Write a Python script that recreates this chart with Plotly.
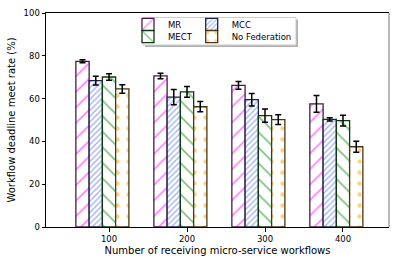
import plotly.graph_objects as go

categories = ["100", "200", "300", "400"]
series_names = ["MR", "MCC", "MECT", "No Federation"]
mr = [77.4, 70.6, 66.2, 57.5]
mr_err = [0.7, 1.3, 1.8, 3.9]
mcc = [68.4, 60.7, 59.5, 50.3]
mcc_err = [2.0, 3.6, 2.9, 0.8]
mect = [70.1, 63.1, 52.0, 49.7]
mect_err = [1.5, 2.5, 3.1, 2.5]
nofed = [64.5, 56.2, 50.2, 37.5]
nofed_err = [2.0, 2.4, 2.3, 2.6]
y_ticks = [0, 20, 40, 60, 80, 100]

values = [mr, mcc, mect, nofed]
errors = [mr_err, mcc_err, mect_err, nofed_err]
fg = ["#ff00ff", "#4169e1", "#008000", "#ffa500"]
outline = ["#4a1a4a", "#1c2444", "#103810", "#4a3610"]
shapes_p = ["/", "/", "\\", "."]
sizes = [11, 4, 11, 11]
solid = [0.15, 0.35, 0.15, 0.13]
w = 0.17
offsets = [-2.5 * w, -1.5 * w, -0.5 * w, 0.5 * w]
legend_ids = ["legend", "legend2", "legend3", "legend4"]
# legend text anchor (px): MR, MCC, MECT, No Federation
leg_text_x = [168, 231.7, 168, 231.7]
leg_text_y = [24.3, 24.3, 36.7, 36.7]

xpos = list(range(len(categories)))
FONT = "DejaVu Sans"

fig = go.Figure()
for i, name in enumerate(series_names):
    fig.add_trace(go.Bar(
        x=xpos, y=values[i], name=name, width=w, offset=offsets[i],
        marker=dict(color="white", line=dict(color=outline[i], width=1.3),
                    pattern=dict(shape=shapes_p[i], fgcolor=fg[i], bgcolor="white",
                                 size=sizes[i], solidity=solid[i], fillmode="overlay")),
        error_y=dict(type="data", array=errors[i], color="black", thickness=1.5, width=3),
        legend=legend_ids[i],
    ))

PL, PR, PT, PB = 46, 10, 13, 39
pw, ph = 399 - PL - PR, 266 - PT - PB

def px_x(x):
    return (x - PL) / pw

def px_y(y):
    return (266 - PB - y) / ph

leg_common = dict(xanchor="left", yanchor="middle", orientation="v",
                  bgcolor="rgba(0,0,0,0)", font=dict(size=8.5), itemwidth=30)

legends = {}
for i, lid in enumerate(legend_ids):
    legends[lid] = dict(x=px_x(leg_text_x[i] - 40), y=px_y(leg_text_y[i]), **leg_common)

fig.update_layout(
    width=399, height=266,
    margin=dict(l=PL, r=PR, t=PT, b=PB, autoexpand=False),
    paper_bgcolor="white", plot_bgcolor="white",
    barmode="overlay",
    font=dict(family=FONT, size=8.5, color="black"),
    showlegend=True,
    xaxis=dict(range=[-0.808, 3.59], tickvals=xpos, ticktext=categories,
               showline=True, linecolor="black", linewidth=1, mirror=True,
               ticks="outside", ticklen=3.5, tickcolor="black", showgrid=False,
               zeroline=False,
               title=dict(text="Number of receiving micro-service workflows", standoff=4)),
    yaxis=dict(range=[0, 100], tickvals=y_ticks, showline=True, linecolor="black",
               linewidth=1, ticks="outside", ticklen=3.5, tickcolor="black",
               showgrid=False, zeroline=False,
               title=dict(text="Workflow deadline meet rate (%)", standoff=6)),
    shapes=[
        dict(type="rect", xref="paper", yref="paper", x0=px_x(145), x1=px_x(298),
             y0=px_y(47), y1=px_y(19.5), fillcolor="#b0b0b0", line=dict(width=0),
             layer="above"),
        dict(type="rect", xref="paper", yref="paper", x0=px_x(143), x1=px_x(296),
             y0=px_y(45), y1=px_y(17.5), fillcolor="white",
             line=dict(color="#cccccc", width=1), layer="above"),
        dict(type="line", xref="paper", yref="paper", x0=1, x1=1, y0=0, y1=1,
             line=dict(color="#8a8a8a", width=1.2), layer="above"),
    ],
    **legends,
)

fig.write_html("out.html", config={"displayModeBar": False},
               post_script="document.body.style.margin='0';")
